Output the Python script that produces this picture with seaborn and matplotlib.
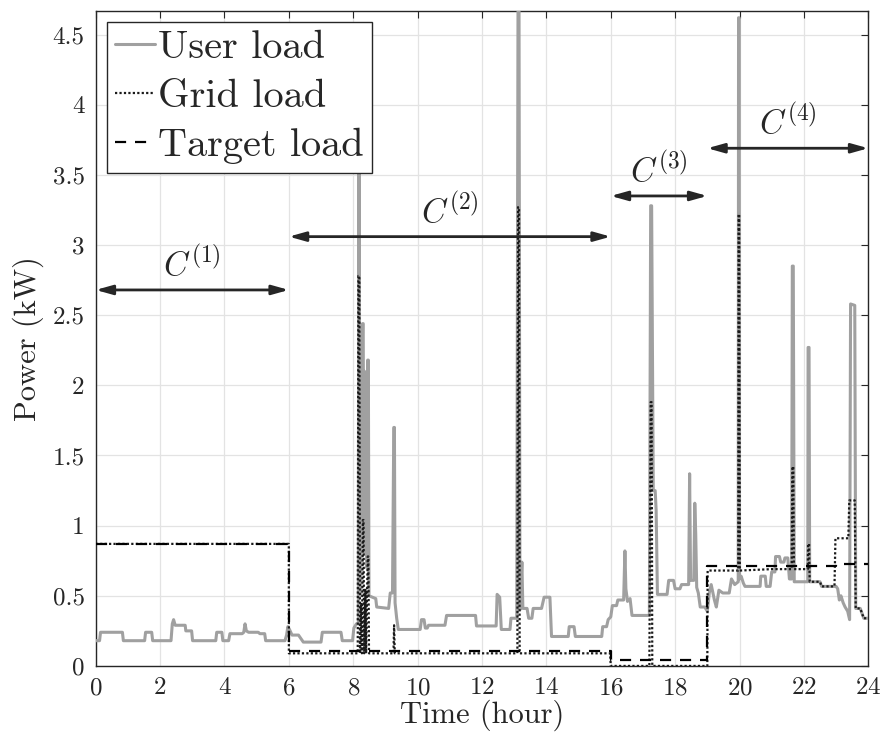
import numpy as np
import pandas as pd
import matplotlib
matplotlib.use("Agg")
import matplotlib.pyplot as plt
import matplotlib.ticker as ticker
import seaborn as sns

# ── Data ──────────────────────────────────────────────────────────────────────

user_t = [0.00, 0.12, 0.15, 0.83, 0.86, 1.52, 1.55, 1.74, 1.77, 2.34, 2.38, 2.42,
          2.47, 2.78, 2.80, 2.98, 3.01, 3.73, 3.76, 3.92, 3.95, 4.13, 4.17, 4.55,
          4.60, 4.64, 4.68, 4.75, 5.05, 5.10, 5.25, 5.28, 5.88, 5.93, 5.97, 6.02,
          6.10, 6.30, 6.45, 7.00, 7.04, 7.62, 7.66, 7.98, 8.02, 8.10, 8.16, 8.17,
          8.19, 8.20, 8.23, 8.29, 8.31, 8.33, 8.35, 8.37, 8.40, 8.42, 8.45, 8.47,
          8.49, 8.70, 8.73, 9.10, 9.15, 9.22, 9.26, 9.28, 9.30, 9.35, 9.40, 10.08,
          10.12, 10.20, 10.24, 10.30, 10.34, 10.85, 10.90, 11.80, 11.83, 12.44,
          12.47, 12.55, 12.60, 12.87, 12.90, 13.08, 13.12, 13.15, 13.18, 13.24,
          13.27, 13.40, 13.45, 13.55, 13.59, 13.85, 13.93, 14.11, 14.16, 14.68,
          14.71, 14.86, 14.90, 15.72, 15.75, 15.87, 15.92, 16.00, 16.05, 16.18,
          16.22, 16.40, 16.44, 16.47, 16.52, 16.60, 16.66, 17.20, 17.24, 17.27,
          17.32, 17.38, 17.41, 17.45, 17.75, 17.80, 17.95, 18.00, 18.15, 18.20,
          18.42, 18.45, 18.48, 18.58, 18.61, 18.64, 18.67, 18.72, 18.78, 18.92,
          19.00, 19.06, 19.12, 19.22, 19.28, 19.36, 19.48, 19.68, 19.75, 19.85,
          19.96, 19.97, 19.99, 20.00, 20.05, 20.12, 20.17, 20.64, 20.66, 20.80,
          20.83, 20.95, 21.00, 21.10, 21.12, 21.24, 21.28, 21.38, 21.41, 21.50,
          21.55, 21.62, 21.64, 21.67, 21.70, 22.12, 22.13, 22.16, 22.18, 22.50,
          22.55, 23.00, 23.05, 23.10, 23.15, 23.22, 23.28, 23.36, 23.42, 23.45,
          23.58, 23.61, 23.75, 23.86, 24.00]
user_kw = [0.18, 0.18, 0.24, 0.24, 0.18, 0.18, 0.24, 0.24, 0.18, 0.18, 0.30, 0.33,
           0.29, 0.29, 0.25, 0.25, 0.18, 0.18, 0.24, 0.24, 0.18, 0.18, 0.23, 0.23,
           0.24, 0.30, 0.25, 0.24, 0.24, 0.23, 0.23, 0.18, 0.18, 0.22, 0.28, 0.26,
           0.22, 0.22, 0.17, 0.17, 0.24, 0.24, 0.18, 0.18, 0.27, 0.30, 0.30, 3.60,
           3.60, 1.20, 0.50, 2.44, 2.44, 1.00, 2.10, 0.80, 1.50, 0.70, 2.18, 2.18,
           0.50, 0.48, 0.42, 0.41, 0.52, 0.52, 1.70, 1.70, 0.45, 0.34, 0.26, 0.26,
           0.33, 0.33, 0.27, 0.27, 0.29, 0.29, 0.36, 0.36, 0.285, 0.285,
           0.51, 0.49, 0.26, 0.26, 0.34, 0.34, 4.80, 4.80, 0.40, 0.74,
           0.41, 0.41, 0.34, 0.34, 0.41, 0.41, 0.49, 0.49, 0.21, 0.21,
           0.28, 0.28, 0.21, 0.21, 0.28, 0.28, 0.33, 0.35, 0.43, 0.43,
           0.47, 0.47, 0.82, 0.55, 0.46, 0.48, 0.36, 0.36, 3.28, 3.28,
           1.25, 1.25, 1.11, 0.51, 0.51, 0.61, 0.61, 0.55, 0.55, 0.58,
           0.58, 1.37, 0.61, 0.61, 1.16, 0.94, 0.56, 0.52, 0.42, 0.42,
           0.39, 0.52, 0.58, 0.47, 0.42, 0.54, 0.52, 0.52, 0.62, 0.58,
           0.60, 4.62, 4.62, 0.62, 0.64, 0.59, 0.567, 0.567, 0.64, 0.64,
           0.567, 0.567, 0.67, 0.67, 0.78, 0.78, 0.74, 0.74, 0.77, 0.77,
           0.62, 0.62, 2.85, 2.85, 0.60, 0.60, 2.27, 2.27, 0.60, 0.60,
           0.567, 0.567, 0.55, 0.47, 0.50, 0.45, 0.42, 0.39, 0.33, 2.58,
           2.57, 0.41, 0.41, 0.34, 0.34]

grid_t = [0.00, 6.00, 6.001, 8.14, 8.16, 8.19, 8.21, 8.25, 8.27, 8.30, 8.32, 8.34,
          8.38, 8.40, 8.45, 8.47, 8.49, 9.25, 9.27, 9.29, 13.10, 13.12, 13.15,
          13.17, 15.98, 16.00, 17.20, 17.24, 17.27, 17.29, 19.00, 19.01, 19.96,
          19.97, 19.99, 20.01, 21.00, 21.62, 21.64, 21.67, 21.69, 22.12, 22.13,
          22.16, 22.18, 22.50, 22.55, 22.95, 22.98, 23.38, 23.41, 23.58, 23.61,
          23.75, 23.86, 24.00]
grid_kw = [0.87, 0.87, 0.09, 0.09, 2.78, 2.78, 0.09, 0.45, 0.09, 1.04, 1.04, 0.09,
           0.55, 0.09, 0.78, 0.78, 0.09, 0.09, 0.29, 0.09, 0.09, 3.27, 3.27,
           0.09, 0.09, 0.00, 0.00, 1.88, 1.88, 0.00, 0.00, 0.68, 0.68,
           3.22, 3.22, 0.68, 0.69, 0.69, 1.42, 1.42, 0.69, 0.69, 0.87,
           0.87, 0.60, 0.60, 0.567, 0.567, 0.91, 0.91, 1.18, 1.18, 0.41,
           0.41, 0.34, 0.34]

target_t = [0.0, 6.0, 6.0, 16.0, 16.0, 19.0, 19.0, 23.0, 23.0, 24.0]
target_kw = [0.87, 0.87, 0.11, 0.11, 0.045, 0.045, 0.71, 0.71, 0.73, 0.73]

# clusters: (start hour, end hour, arrow height, label)
cluster_start = [0, 6, 16, 19]
cluster_end = [6, 16, 19, 24]
cluster_y = [2.68, 3.06, 3.35, 3.69]
cluster_labels = [r"$C^{(1)}$", r"$C^{(2)}$", r"$C^{(3)}$", r"$C^{(4)}$"]

y_ticks = [0, 0.5, 1, 1.5, 2, 2.5, 3, 3.5, 4, 4.5]
x_ticks = list(range(0, 25, 2))

# ── Style ─────────────────────────────────────────────────────────────────────

sns.set_style("whitegrid")
plt.rcParams["font.family"] = ["cmr10", "DejaVu Serif"]
plt.rcParams["mathtext.fontset"] = "cm"
plt.rcParams["axes.formatter.use_mathtext"] = True
plt.rcParams["axes.unicode_minus"] = False

dark = "#262626"

fig = plt.figure(figsize=(8.86, 7.42), dpi=100)
ax = fig.add_axes([0.108, 0.1025, 0.872, 0.883])

sns.lineplot(x=user_t, y=user_kw, ax=ax, estimator=None, sort=False,
             color="#a0a0a0", lw=2.2, label="User load", zorder=3)
sns.lineplot(x=grid_t, y=grid_kw, ax=ax, estimator=None, sort=False,
             color="#1a1a1a", lw=1.6, linestyle=(0, (1, 1)), label="Grid load", zorder=4)
sns.lineplot(x=target_t, y=target_kw, ax=ax, estimator=None, sort=False,
             color="black", lw=1.6, linestyle=(0, (5, 4)), label="Target load", zorder=5)

for x0, x1, yy, lab in zip(cluster_start, cluster_end, cluster_y, cluster_labels):
    ax.annotate("", xy=(x0, yy), xytext=(x1, yy),
                arrowprops=dict(arrowstyle="<|-|>,head_length=1.0,head_width=0.28",
                                color=dark, lw=2.0, shrinkA=0, shrinkB=0),
                zorder=6)
    ax.text((x0 + x1) / 2, yy + 0.06, lab, ha="center", va="bottom",
            fontsize=24, color=dark, zorder=6)

ax.set_xlim(0, 24)
ax.set_ylim(0, 4.67)
ax.set_xticks(x_ticks)
ax.set_yticks(y_ticks)
ax.yaxis.set_major_formatter(ticker.FuncFormatter(lambda v, p: f"{v:g}"))
ax.tick_params(direction="in", length=5, width=0.8, top=True, right=True,
               labelsize=18, colors=dark, pad=8)
ax.grid(True, color="#e3e3e3", lw=0.9)
for s in ax.spines.values():
    s.set_color(dark)
    s.set_linewidth(1.0)
ax.set_xlabel("Time (hour)", fontsize=22, color=dark, labelpad=0)
ax.set_ylabel("Power (kW)", fontsize=22, color=dark, labelpad=6)

leg = ax.legend(loc="upper left", bbox_to_anchor=(0.0142, 0.983), borderaxespad=0,
                fontsize=29, frameon=True, fancybox=False, framealpha=1,
                edgecolor=dark, handlelength=1.0, handletextpad=0.08,
                borderpad=0.2, labelspacing=0.32)
leg.get_frame().set_linewidth(1.0)
leg.set_zorder(10)

fig.savefig("out.png", dpi=100)
